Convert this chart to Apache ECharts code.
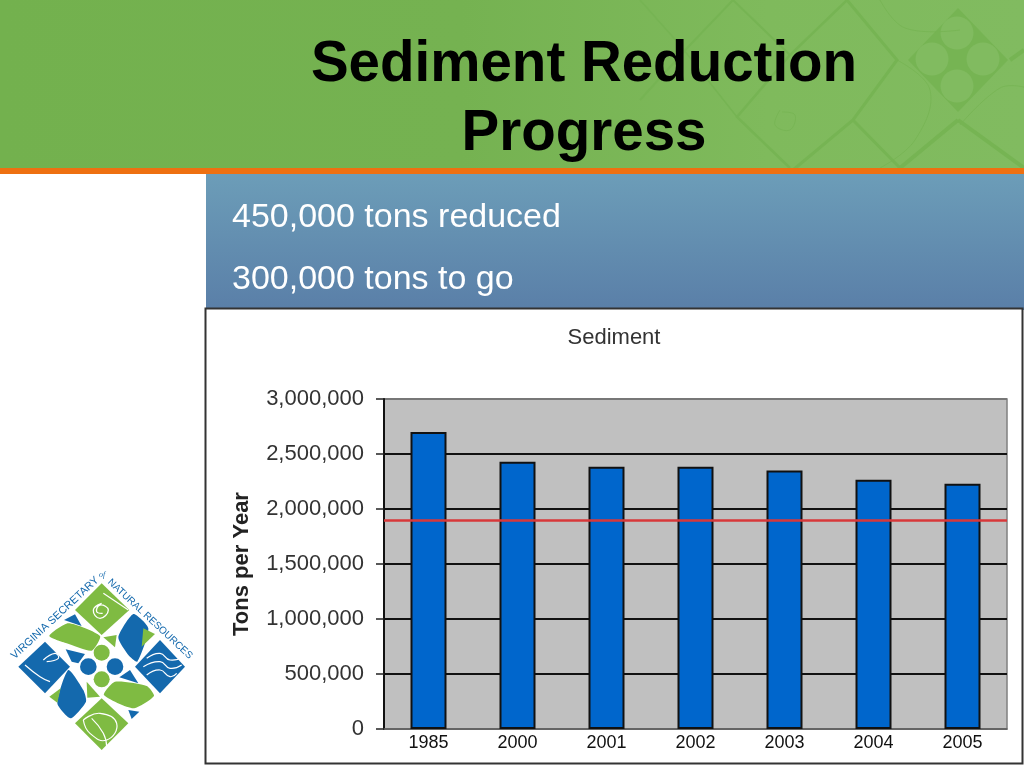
<!DOCTYPE html>
<html><head><meta charset="utf-8">
<style>html,body{margin:0;padding:0;background:#fff}#c{width:1024px;height:768px}</style>
<script src="https://cdn.jsdelivr.net/npm/echarts@6/dist/echarts.min.js"></script>
</head><body><div id="c"></div>
<script>
const categories = ['1985','2000','2001','2002','2003','2004','2005'];
const sediment = [2700000,2430000,2385000,2385000,2350000,2265000,2230000];
const goal = 1900000;
const bullets = ['450,000 tons reduced','300,000 tons to go'];

const FONT = '"Liberation Sans", Arial, sans-serif';
const GD='#76b453', GL='#81bb60', B='#1469ad', LG='#7fbb42';
const z = p => p.map(q => [q[0]/3, 560+q[1]/3]);
const poly = (p,fill,smooth,zz) => ({type:'polygon',z:zz||1,silent:true,shape:{points:z(p),smooth:smooth||0},style:{fill}});
const circ = (x,y,r,fill,zz) => ({type:'circle',z:zz||1,silent:true,shape:{cx:x,cy:y,r},style:{fill}});
const stroke = (p,c,w,zz) => ({type:'polyline',z:zz||2,silent:true,shape:{points:z(p),smooth:0.5},style:{fill:'none',stroke:c,lineWidth:w}});
const lat = (p,w,smooth) => ({type:'polyline',z:1,silent:true,shape:{points:p,smooth:smooth||0},style:{fill:'none',stroke:GD,lineWidth:w||2.5}});

const header = [
  {type:'rect',z:0,silent:true,shape:{x:0,y:0,width:1024,height:168},
    style:{fill:{type:'linear',x:0,y:0,x2:1,y2:0,colorStops:[{offset:0,color:'#73b14e'},{offset:0.45,color:'#75b251'},{offset:0.75,color:'#7fba5c'},{offset:1,color:'#81bb60'}]}}},
  {type:'polygon',z:1,silent:true,shape:{points:[[958,8],[1008,60],[958,112],[908,60]]},style:{fill:GD}},
  circ(957,33,16.5,GL),circ(932,59,16.5,GL),circ(983,59,16.5,GL),circ(957,86,16.5,GL),
  lat([[847,0],[897,60],[853,120],[793,170]],3),
  lat([[847,0],[790,55],[737,117],[790,168]],2.5),
  lat([[733,0],[790,55]],2),
  lat([[733,0],[690,45],[640,100]],2),
  lat([[853,120],[900,168]],3),
  lat([[958,120],[1024,168]],4),
  lat([[958,120],[900,168]],4),
  lat([[1010,60],[1024,50]],4),
  lat([[640,0],[680,45],[737,117]],1.5),
  lat([[897,60],[930,90],[915,140],[880,168]],0.8,0.4),
  lat([[960,125],[1000,88],[1024,87]],0.8,0.4),
  lat([[880,0],[905,28],[960,30]],0.8,0.4),
  lat([[780,110],[775,125],[790,130],[795,115],[782,112]],0.8,0.4),
  {type:'rect',z:3,silent:true,shape:{x:0,y:168,width:1024,height:6},style:{fill:'#ee7011'}},
  {type:'rect',z:3,silent:true,shape:{x:206,y:174,width:818,height:136},style:{fill:{type:'linear',x:0,y:0,x2:0,y2:1,colorStops:[{offset:0,color:'#6c9db8'},{offset:1,color:'#5a7fa8'}]}}},
  {type:'rect',z:3,silent:true,shape:{x:205.5,y:308.5,width:817,height:455},style:{fill:'#ffffff',stroke:'#333333',lineWidth:2}}
];

const logo = [
  poly([[305,70],[388,150],[305,225],[225,150]],LG),
  poly([[135,245],[210,320],[135,400],[55,320]],B),
  poly([[480,240],[555,320],[480,400],[405,320]],B),
  poly([[305,415],[385,490],[305,570],[225,490]],LG),
  circ(265/3,560+320/3,8.3,B),circ(345/3,560+320/3,8.3,B),
  circ(305/3,560+278/3,8,LG),circ(305/3,560+358/3,8,LG),
  poly([[148,228],[205,190],[300,228],[275,272],[200,250]],LG,0.2),
  poly([[192,180],[225,163],[245,198]],B),
  poly([[197,268],[255,282],[235,310],[215,305]],B),
  poly([[355,232],[400,162],[445,205],[412,305],[385,285]],B,0.2),
  poly([[310,232],[350,225],[345,262]],LG),
  poly([[430,205],[465,222],[425,260]],LG),
  poly([[312,405],[345,365],[440,378],[462,408],[400,445]],LG,0.2),
  poly([[358,352],[390,330],[415,370]],B),
  poly([[385,450],[418,455],[395,477]],B),
  poly([[172,430],[205,330],[250,390],[258,425],[212,475]],B,0.2),
  poly([[148,410],[182,385],[172,428]],LG),
  poly([[260,365],[300,410],[262,413]],LG),
  stroke([[305,130],[280,150],[300,175],[325,150],[300,135],[290,155],[308,160]],'#ffffff',1.3),
  stroke([[310,100],[385,150]],'#ffffff',1.2),
  stroke([[75,315],[120,350],[150,365]],'#ffffff',1.2),
  stroke([[130,300],[165,280],[175,295],[140,305]],'#ffffff',1.2),
  stroke([[440,295],[480,280],[510,300],[550,290]],'#ffffff',1.2),
  stroke([[430,320],[480,305],[510,325],[545,315]],'#ffffff',1.2),
  stroke([[440,345],[480,330],[510,350],[530,340]],'#ffffff',1.2),
  stroke([[250,480],[300,460],[350,490],[320,540],[270,520],[250,480]],'#ffffff',1.2),
  stroke([[275,475],[310,520],[320,560]],'#ffffff',1.2),
  {type:'text',z:2,silent:true,x:55,y:618,rotation:0.75,
    style:{text:'VIRGINIA SECRETARY',font:'10.8px '+FONT,fill:B,align:'center',verticalAlign:'middle'}},
  {type:'text',z:2,silent:true,x:150,y:619,rotation:-0.75,
    style:{text:'NATURAL RESOURCES',font:'10px '+FONT,fill:B,align:'center',verticalAlign:'middle'}},
  {type:'text',z:2,silent:true,x:102,y:575,style:{text:'of',font:'italic 8px "Liberation Serif",serif',fill:B,align:'center',verticalAlign:'middle'}}
];

const chart = echarts.init(document.getElementById('c'),null,{renderer:'canvas'});
chart.setOption({
  animation:false,
  backgroundColor:'#ffffff',
  graphic:{elements:header.concat(logo)},
  title:[
    {text:'Sediment Reduction\nProgress',left:584,top:31,padding:0,textAlign:'center',z:5,
      textStyle:{fontFamily:FONT,fontSize:56.5,fontWeight:'bold',color:'#000',lineHeight:69}},
    {text:bullets[0],left:232,top:201,padding:0,z:5,textStyle:{fontFamily:FONT,fontSize:34,fontWeight:'normal',color:'#fff'}},
    {text:bullets[1],left:232,top:263,padding:0,z:5,textStyle:{fontFamily:FONT,fontSize:34,fontWeight:'normal',color:'#fff'}},
    {text:'Sediment',left:614,top:327,padding:0,textAlign:'center',z:5,textStyle:{fontFamily:FONT,fontSize:22,fontWeight:'normal',color:'#333'}}
  ],
  grid:{left:384,top:399,width:623,height:330,show:true,backgroundColor:'#c0c0c0',borderWidth:1.5,borderColor:'#808080',z:4},
  xAxis:{type:'category',data:categories,z:5,
    axisLine:{lineStyle:{color:'#666',width:1.5}},axisTick:{show:false},
    axisLabel:{fontFamily:FONT,fontSize:18,color:'#111',margin:5},splitLine:{show:false}},
  yAxis:{type:'value',min:0,max:3000000,interval:500000,z:5,
    name:'Tons per Year',nameLocation:'middle',nameRotate:90,nameGap:131,
    nameTextStyle:{fontFamily:FONT,fontSize:22,fontWeight:'bold',color:'#222'},
    axisLine:{show:true,lineStyle:{color:'#111',width:2}},
    axisTick:{show:true,length:8,lineStyle:{color:'#222',width:1.5}},
    axisLabel:{fontFamily:FONT,fontSize:22,color:'#333',margin:20,padding:[3,0,0,0],
      formatter:v=>v.toString().replace(/\B(?=(\d{3})+$)/g,',')},
    splitLine:{show:true,lineStyle:{width:2,color:['#666','#111','#111','#111','#111','#111','#777']}}},
  series:[{type:'bar',name:'Sediment',data:sediment,barWidth:36,z:6,
    itemStyle:{color:'#0066cc',borderColor:'#111',borderWidth:2},
    markLine:{silent:true,symbol:'none',z:7,label:{show:false},
      lineStyle:{color:'#d8383a',width:2.5,type:'solid'},data:[{yAxis:goal}]}}]
});
</script></body></html>
